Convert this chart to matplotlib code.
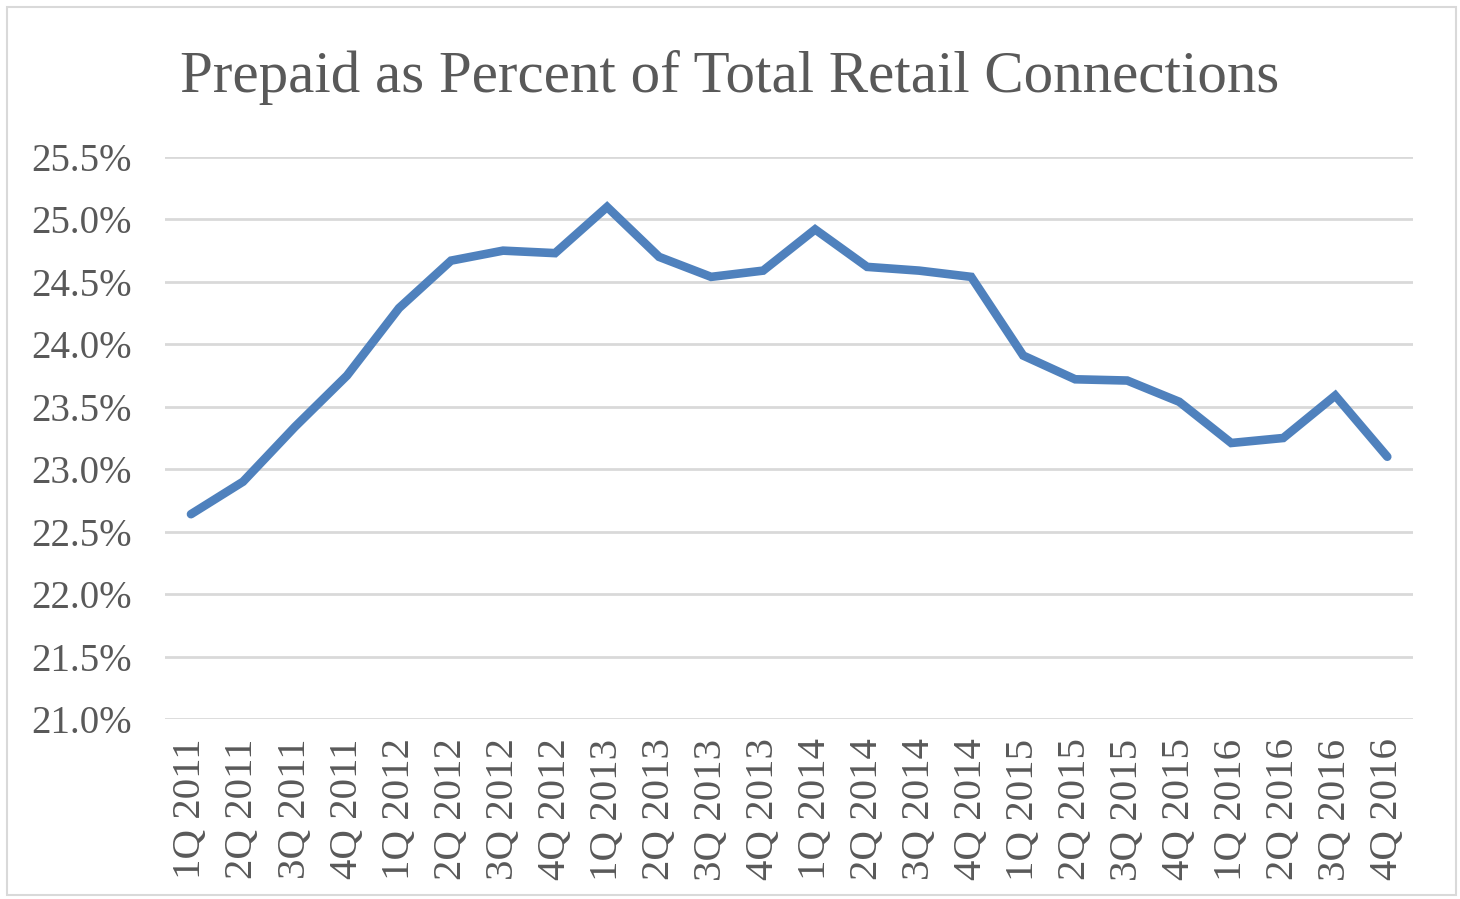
import matplotlib
matplotlib.use('Agg')
import matplotlib.pyplot as plt
from matplotlib.patches import Rectangle
from matplotlib.ticker import FuncFormatter

# Quarter labels and prepaid share (%)
quarters = ['1Q 2011', '2Q 2011', '3Q 2011', '4Q 2011',
            '1Q 2012', '2Q 2012', '3Q 2012', '4Q 2012',
            '1Q 2013', '2Q 2013', '3Q 2013', '4Q 2013',
            '1Q 2014', '2Q 2014', '3Q 2014', '4Q 2014',
            '1Q 2015', '2Q 2015', '3Q 2015', '4Q 2015',
            '1Q 2016', '2Q 2016', '3Q 2016', '4Q 2016']
prepaid_pct = [22.64, 22.90, 23.34, 23.75,
               24.29, 24.67, 24.75, 24.73,
               25.10, 24.70, 24.54, 24.59,
               24.92, 24.62, 24.59, 24.54,
               23.91, 23.72, 23.71, 23.54,
               23.21, 23.25, 23.59, 23.10]
y_ticks = [21.0, 21.5, 22.0, 22.5, 23.0, 23.5, 24.0, 24.5, 25.0, 25.5]

plt.rcParams['font.family'] = ['Liberation Serif', 'DejaVu Serif']
text_color = '#595959'

fig = plt.figure(figsize=(14.6, 8.99), dpi=100)
ax = fig.add_axes([0.113, 0.2002, 0.855, 0.6252])

x = list(range(len(quarters)))
ax.plot(x, prepaid_pct, color='#4f81bd', linewidth=6.2,
        solid_capstyle='round', solid_joinstyle='miter', zorder=3)

ax.set_xlim(-0.5, len(quarters) - 0.5)
ax.set_ylim(21.0, 25.5)
ax.set_yticks(y_ticks)
ax.yaxis.set_major_formatter(FuncFormatter(lambda v, p: f'{v:.1f}%'))
ax.set_xticks(x)
ax.set_xticklabels(quarters, rotation=90)

ax.grid(axis='y', color='#d9d9d9', linewidth=2)
ax.set_axisbelow(True)
for s in ax.spines.values():
    s.set_visible(False)
ax.tick_params(axis='y', length=0, labelsize=28, labelcolor=text_color, pad=24)
ax.tick_params(axis='x', length=0, labelsize=29.5, labelcolor=text_color, pad=14)

fig.text(0.5, 0.914, 'Prepaid as Percent of Total Retail Connections',
         ha='center', va='center', fontsize=42.5, color=text_color)

# light frame around the chart area
fig.patches.append(Rectangle((7 / 1460, 1 - 895 / 899), 1449 / 1460, 888 / 899,
                             transform=fig.transFigure, fill=False,
                             edgecolor='#d9d9d9', linewidth=1.5))

fig.savefig('out.png', dpi=100, facecolor='white')
